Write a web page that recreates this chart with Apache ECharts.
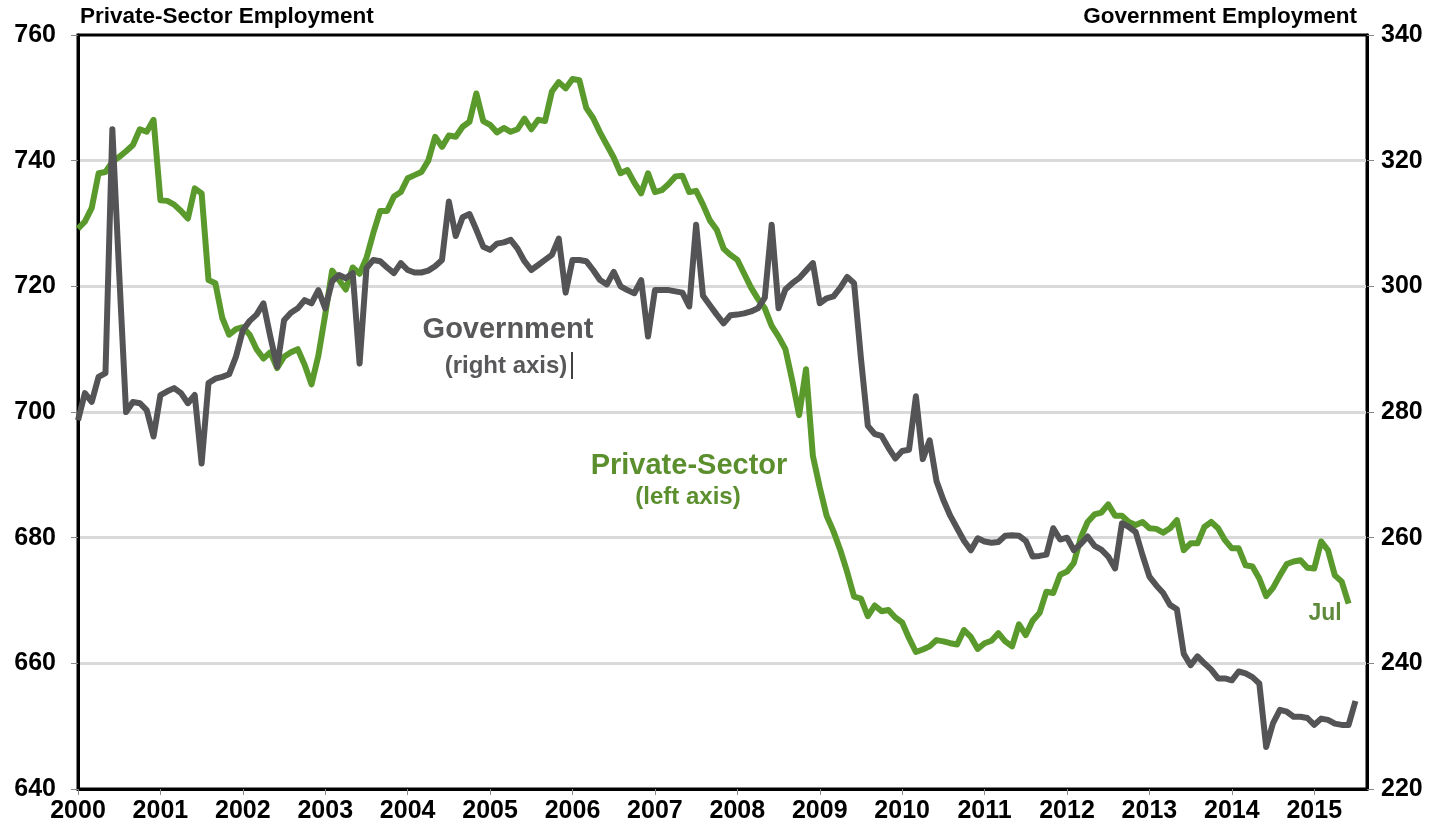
<!DOCTYPE html>
<html>
<head>
<meta charset="utf-8">
<script src="https://cdn.jsdelivr.net/npm/echarts@6/dist/echarts.min.js"></script>
<style>
    html, body { margin: 0; padding: 0; background: #fff; }
    #chart { width: 1451px; height: 832px; }
</style>
</head>
<body>
<div id="chart"></div>
<script>
    // monthly, Jan 2000 - Jul 2015
    var startYear = 2000;

    // private-sector employment (left axis)
    var privateSector = [
        729.2, 730.3, 732.5, 738, 738.2, 739.8, 740.6, 741.5, 742.5, 745, 744.6, 746.5,
        733.7, 733.6, 733, 732, 730.8, 735.6, 734.8, 721, 720.5, 715, 712.3, 713.2,
        713.5, 712.3, 710, 708.5, 709.5, 707, 708.8, 709.5, 710, 707.5, 704.4, 709,
        715.5, 722.5, 721, 719.5, 723, 722, 724.5, 728.5, 732, 732, 734.3, 735,
        737.2, 737.7, 738.2, 740, 743.8, 742.2, 744, 743.8, 745.4, 746.2, 750.7, 746.3,
        745.7, 744.5, 745.2, 744.6, 745, 746.7, 745, 746.5, 746.3, 751, 752.5, 751.5,
        753, 752.8, 748.4, 746.8, 744.5, 742.5, 740.5, 738, 738.5, 736.5, 734.8, 738,
        735, 735.3, 736.3, 737.5, 737.6, 735, 735.2, 733, 730.5, 729, 726, 725,
        724.2, 722, 719.8, 718, 716.5, 713.7, 712, 710, 705, 699.5, 706.8, 693,
        688, 683.5, 681, 678, 674.5, 670.6, 670.3, 667.5, 669.2, 668.3, 668.5, 667.3,
        666.5, 664, 661.8, 662.2, 662.7, 663.7, 663.5, 663.2, 663, 665.3, 664.2, 662.3,
        663.2, 663.6, 664.8, 663.5, 662.7, 666.2, 664.5, 666.8, 668, 671.4, 671.2, 674.1,
        674.6, 676, 680, 682.5, 683.7, 684, 685.3, 683.5, 683.5, 682.5, 682, 682.5,
        681.5, 681.4, 680.8, 681.5, 682.8, 678, 679.1, 679.1, 681.7, 682.5, 681.5, 679.6,
        678.3, 678.3, 675.6, 675.4, 673.5, 670.7, 672, 674, 675.8, 676.2, 676.4, 675.2,
        675.1, 679.4, 678, 674, 673, 669.5
    ];

    // government employment (right axis)
    var government = [
        278.7, 283, 281.6, 285.6, 286.2, 325, 302, 280, 281.6, 281.4, 280.3, 276.1,
        282.7, 283.3, 283.8, 283, 281.4, 282.7, 271.8, 284.6, 285.3, 285.6, 286, 288.8,
        293, 294.5, 295.5, 297.3, 292, 287.2, 294.6, 295.8, 296.5, 297.8, 297.3, 299.4,
        296.5, 300.8, 301.8, 301.3, 302.1, 287.7, 302.9, 304.2, 304, 303, 302.1, 303.7,
        302.6, 302.2, 302.2, 302.5, 303.2, 304.2, 313.5, 308, 311, 311.5, 309, 306.3,
        305.8, 306.8, 307, 307.4, 306, 304, 302.6, 303.4, 304.2, 305, 307.6, 299,
        304.2, 304.2, 304, 302.6, 301, 300.3, 302.3, 300, 299.4, 298.9, 301, 292,
        299.4, 299.4, 299.4, 299.2, 299, 296.8, 309.8, 298.5, 297, 295.5, 294.1, 295.4,
        295.5, 295.7, 296, 296.5, 298.2, 309.8, 296.5, 299.5, 300.5, 301.3, 302.5, 303.7,
        297.3, 298.1, 298.4, 299.8, 301.5, 300.5, 288.5, 277.8, 276.5, 276.2, 274.3, 272.6,
        273.8, 274, 282.5, 272.5, 275.5, 269, 266, 263.5, 261.5, 259.5, 258, 259.9,
        259.4, 259.2, 259.3, 260.3, 260.4, 260.3, 259.5, 257, 257.1, 257.3, 261.5, 259.7,
        260, 258, 259, 260.2, 258.7, 258.1, 257, 255.1, 262.3, 261.7, 260.9, 257.2,
        253.8, 252.4, 251.2, 249.3, 248.6, 241.5, 239.7, 241.1, 240, 239, 237.6, 237.6,
        237.3, 238.7, 238.4, 237.8, 236.8, 226.7, 230.5, 232.6, 232.3, 231.5, 231.5, 231.3,
        230.2, 231.2, 231, 230.4, 230.2, 230.2, 234
    ];

    var leftTicks = [640, 760, 20];   // min, max, step
    var rightTicks = [220, 340, 20];
    var yearRange = [2000, 2015.64];

    function toPoints(values) {
        return values.map(function (v, i) {
            return [startYear + i / 12, v];
        });
    }

    var labelFont = {
        fontFamily: '"Liberation Sans", Arial, sans-serif',
        fontWeight: 'bold',
        fontSize: 25,
        color: '#000'
    };
    var textFont = '"Liberation Sans", Arial, sans-serif';

    var myChart = echarts.init(document.getElementById('chart'));
    var option = {
        animation: false,
        backgroundColor: '#fff',
        grid: {
            left: 78, right: 84, top: 35, bottom: 43,
            show: true, borderColor: '#000', borderWidth: 3
        },
        xAxis: {
            type: 'value',
            min: yearRange[0],
            max: yearRange[1],
            interval: 1,
            axisLine: {lineStyle: {color: '#000', width: 3}},
            axisTick: {show: true, length: 6, lineStyle: {color: '#888', width: 1}},
            splitLine: {show: false},
            axisLabel: Object.assign({
                margin: 10,
                showMaxLabel: false,
                formatter: function (v) { return String(Math.round(v)); }
            }, labelFont)
        },
        yAxis: [{
            type: 'value',
            min: leftTicks[0], max: leftTicks[1], interval: leftTicks[2],
            axisLine: {show: true, lineStyle: {color: '#000', width: 3}},
            axisTick: {show: true, length: 7, lineStyle: {color: '#888', width: 1}},
            splitLine: {show: true, showMinLine: false, showMaxLine: false, lineStyle: {color: '#d9d9d9', width: 3}},
            axisLabel: Object.assign({margin: 22}, labelFont)
        }, {
            type: 'value',
            min: rightTicks[0], max: rightTicks[1], interval: rightTicks[2],
            position: 'right',
            axisLine: {show: true, lineStyle: {color: '#000', width: 3}},
            axisTick: {show: true, length: 7, lineStyle: {color: '#888', width: 1}},
            splitLine: {show: false},
            axisLabel: Object.assign({margin: 14}, labelFont)
        }],
        graphic: [
            {type: 'text', left: 80, top: 5, style: {text: 'Private-Sector Employment', font: 'bold 22.5px ' + textFont, fill: '#000'}},
            {type: 'text', right: 94, top: 5, style: {text: 'Government Employment', font: 'bold 22.5px ' + textFont, fill: '#000'}},
            {type: 'text', x: 508, y: 330, style: {text: 'Government', font: 'bold 29px ' + textFont, fill: '#58585a', align: 'center', verticalAlign: 'middle'}},
            {type: 'text', x: 506, y: 366, style: {text: '(right axis)', font: 'bold 24px ' + textFont, fill: '#58585a', align: 'center', verticalAlign: 'middle'}},
            {type: 'line', shape: {x1: 572, y1: 352, x2: 572, y2: 379}, style: {stroke: '#000', lineWidth: 1.5}},
            {type: 'text', x: 689, y: 466, style: {text: 'Private-Sector', font: 'bold 29px ' + textFont, fill: '#5b8f2e', align: 'center', verticalAlign: 'middle'}},
            {type: 'text', x: 688, y: 497, style: {text: '(left axis)', font: 'bold 24px ' + textFont, fill: '#5b8f2e', align: 'center', verticalAlign: 'middle'}},
            {type: 'text', x: 1325, y: 614, style: {text: 'Jul', font: 'bold 23px ' + textFont, fill: '#5f8a3c', align: 'center', verticalAlign: 'middle'}}
        ],
        series: [{
            name: 'Private-Sector',
            type: 'line',
            yAxisIndex: 0,
            symbol: 'none',
            data: toPoints(privateSector),
            lineStyle: {color: '#5a9a2c', width: 6, join: 'round'}
        }, {
            name: 'Government',
            type: 'line',
            yAxisIndex: 1,
            symbol: 'none',
            data: toPoints(government),
            lineStyle: {color: '#545456', width: 6, join: 'round'}
        }]
    };
    myChart.setOption(option);
</script>
</body>
</html>
